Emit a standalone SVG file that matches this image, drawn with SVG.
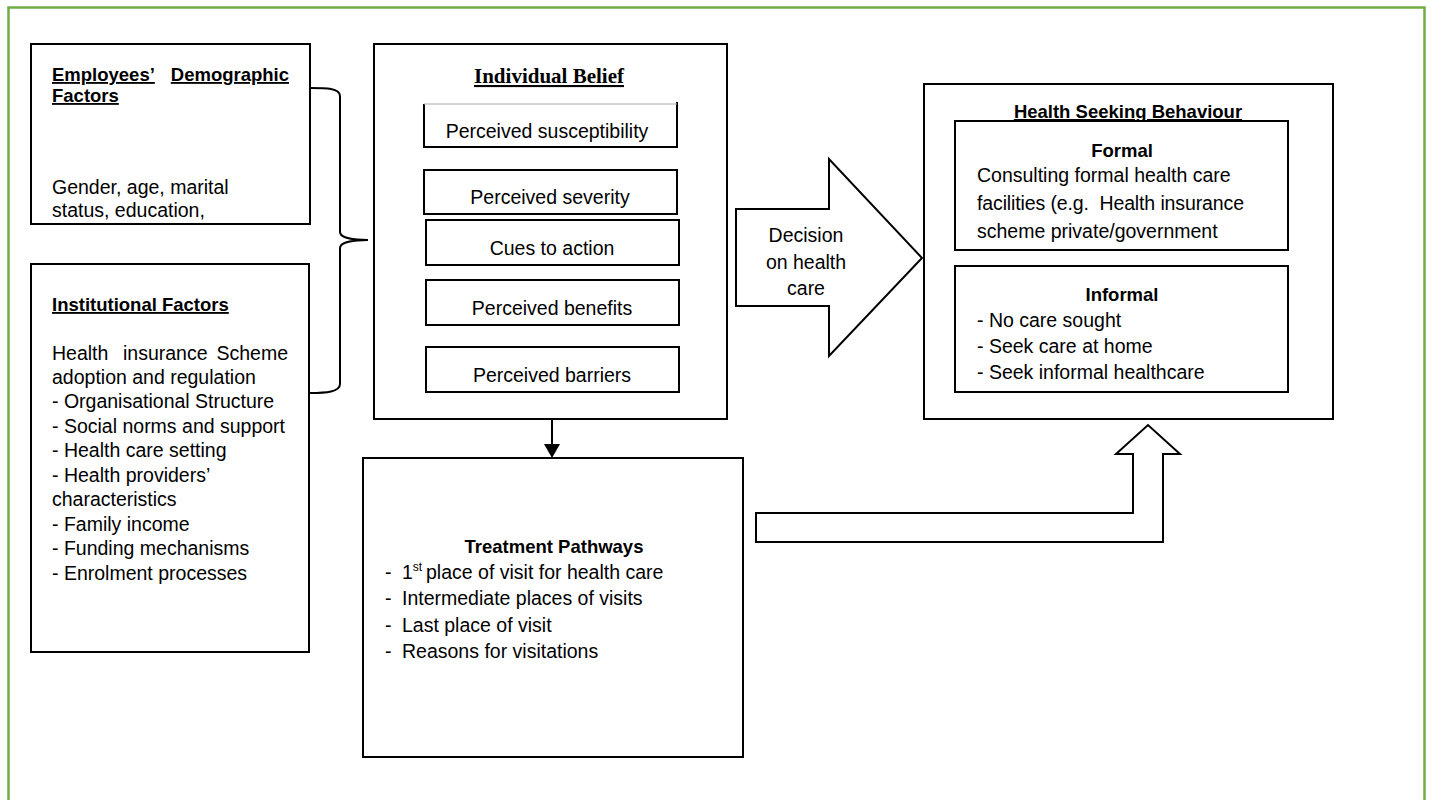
<svg xmlns="http://www.w3.org/2000/svg" width="1434" height="800" viewBox="0 0 1434 800">
<style>
.box{fill:#fff;stroke:#000;stroke-width:2}
.t{font-family:"Liberation Sans",Arial,sans-serif;font-size:19.5px;fill:#000}
.b{font-family:"Liberation Sans",Arial,sans-serif;font-size:18.5px;font-weight:bold;fill:#000}
.u{text-decoration:underline}
.m{text-anchor:middle}
.e{text-anchor:end}
.ser{font-family:"Liberation Serif","Times New Roman",serif;font-size:21px;font-weight:bold;fill:#000}
.conn{fill:#fff;stroke:#000;stroke-width:2;stroke-linejoin:miter}
.line{fill:none;stroke:#000;stroke-width:2}
</style>
<rect x="0" y="0" width="1434" height="800" fill="#fff"/>
<path d="M8.5,820 V7.5 H1424.5 V820" fill="none" stroke="#70ad47" stroke-width="2.5"/>

<g id="demographic">
<rect class="box" x="31" y="44" width="279" height="180"/>
<text class="b u" x="52" y="81">Employees’</text>
<text class="b u e" x="289" y="81">Demographic</text>
<text class="b u" x="52" y="102">Factors</text>
<text class="t" x="52" y="194">Gender, age, marital</text>
<text class="t" x="52" y="217">status, education,</text>
</g>

<g id="institutional">
<rect class="box" x="31" y="264" width="278" height="388"/>
<text class="b u" x="52" y="311">Institutional Factors</text>
<text class="t" x="52" y="360">Health</text>
<text class="t" x="123" y="360">insurance</text>
<text class="t e" x="288" y="360">Scheme</text>
<text class="t" x="52" y="384">adoption and regulation</text>
<text class="t" x="52" y="408">- Organisational Structure</text>
<text class="t" x="52" y="433">- Social norms and support</text>
<text class="t" x="52" y="457">- Health care setting</text>
<text class="t" x="52" y="482">- Health providers’</text>
<text class="t" x="52" y="506">characteristics</text>
<text class="t" x="52" y="531">- Family income</text>
<text class="t" x="52" y="555">- Funding mechanisms</text>
<text class="t" x="52" y="580">- Enrolment processes</text>
</g>

<g id="individual-belief">
<rect class="box" x="374" y="44" width="353" height="375"/>
<text class="ser u m" x="549" y="83">Individual Belief</text>
<g id="susceptibility">
<path d="M424,104 V147 H677 V102" class="line"/>
<line x1="424" y1="104" x2="677" y2="104" stroke="#aaa" stroke-width="1"/>
<text class="t m" x="547" y="138">Perceived susceptibility</text>
</g>
<g id="severity">
<rect class="box" x="424" y="170" width="253" height="44"/>
<text class="t m" x="550" y="204">Perceived severity</text>
</g>
<g id="cues">
<rect class="box" x="426" y="220" width="253" height="45"/>
<text class="t m" x="552" y="255">Cues to action</text>
</g>
<g id="benefits">
<rect class="box" x="426" y="280" width="253" height="45"/>
<text class="t m" x="552" y="315">Perceived benefits</text>
</g>
<g id="barriers">
<rect class="box" x="426" y="347" width="253" height="45"/>
<text class="t m" x="552" y="382">Perceived barriers</text>
</g>
</g>

<g id="treatment-pathways">
<rect class="box" x="363" y="458" width="380" height="299"/>
<text class="b m" x="554" y="553">Treatment Pathways</text>
<text class="t" x="385" y="579">-</text>
<text class="t" x="402" y="579">1<tspan dy="-8" font-size="12">st</tspan><tspan dy="8" x="426">place of visit for health care</tspan></text>
<text class="t" x="385" y="605">-</text>
<text class="t" x="402" y="605">Intermediate places of visits</text>
<text class="t" x="385" y="632">-</text>
<text class="t" x="402" y="632">Last place of visit</text>
<text class="t" x="385" y="658">-</text>
<text class="t" x="402" y="658">Reasons for visitations</text>
</g>

<g id="health-seeking">
<rect class="box" x="924" y="84" width="409" height="335"/>
<text class="b u m" x="1128" y="118">Health Seeking Behaviour</text>
<g id="formal">
<rect class="box" x="955" y="121" width="333" height="129"/>
<text class="b m" x="1122" y="157">Formal</text>
<text class="t" x="977" y="182">Consulting formal health care</text>
<text class="t" x="977" y="210" textLength="267">facilities (e.g.&#160; Health insurance</text>
<text class="t" x="977" y="238">scheme private/government</text>
</g>
<g id="informal">
<rect class="box" x="955" y="266" width="333" height="126"/>
<text class="b m" x="1122" y="301">Informal</text>
<text class="t" x="977" y="327">- No care sought</text>
<text class="t" x="977" y="353">- Seek care at home</text>
<text class="t" x="977" y="379">- Seek informal healthcare</text>
</g>
</g>

<g id="connectors">
<path class="line" d="M310,88 C326,88 340,88 340,96 V232 C340,238 354,240 368,240 C354,240 340,242 340,248 V384 C340,392 326,393 310,393"/>
<line x1="552" y1="419" x2="552" y2="446" stroke="#000" stroke-width="2"/>
<polygon points="544,444 560,444 552,458" fill="#000"/>
<g id="decision-arrow">
<polygon class="conn" points="736,209 829,209 829,159 922,258 829,356 829,306 736,306"/>
<text class="t m" x="806" y="242">Decision</text>
<text class="t m" x="806" y="269">on health</text>
<text class="t m" x="806" y="295">care</text>
</g>
<polygon class="conn" points="756,513 1133,513 1133,454 1116,454 1148,425 1180,454 1163,454 1163,542 756,542"/>
</g>
</svg>
